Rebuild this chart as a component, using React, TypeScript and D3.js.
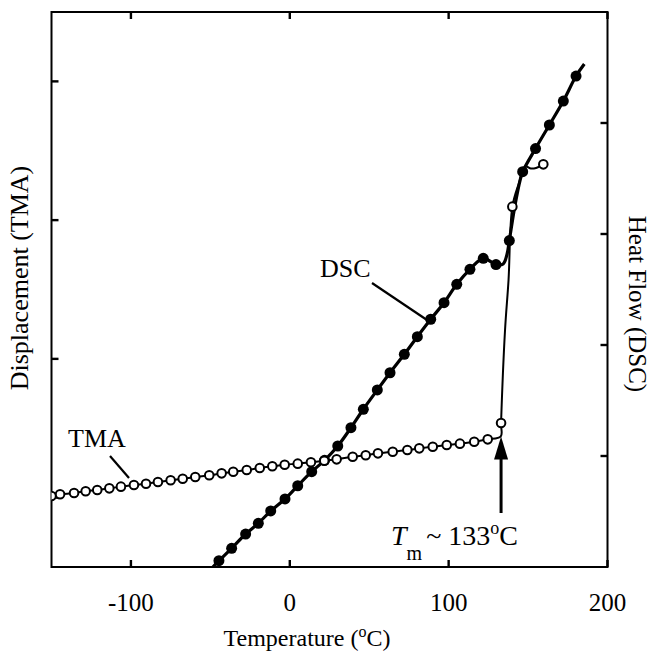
import React from "react";
import * as d3 from "d3";

// ---- data (temperature in °C, arbitrary units on each y axis) ----
// TMA: displacement (left axis), m = 1 where an open-circle marker is drawn
const tmaT = [-150, -144.6, -135.8, -128.5, -121.2, -113.6, -106.3, -98.1, -90.5, -83.0, -75.0, -67.4, -59.5, -50.7, -42.9, -35.6, -27.1, -18.9, -11.0, -3.2, 5.0, 13.3, 21.7, 29.5, 39.6, 47.8, 55.5, 64.8, 74.0, 81.5, 90.0, 98.8, 107.1, 116.1, 124.6, 132.8, 133.0, 135.5, 137.7, 140.1, 144.3, 148.1, 151.8, 155.0, 159.6];
const tmaV = [0.512, 0.524, 0.533, 0.546, 0.555, 0.567, 0.579, 0.591, 0.600, 0.613, 0.625, 0.636, 0.649, 0.661, 0.675, 0.687, 0.699, 0.714, 0.726, 0.737, 0.745, 0.755, 0.766, 0.776, 0.795, 0.805, 0.819, 0.831, 0.843, 0.855, 0.867, 0.879, 0.889, 0.903, 0.920, 0.941, 1.038, 1.708, 2.068, 2.597, 2.768, 2.888, 2.872, 2.876, 2.902];
const tmaM = [1, 1, 1, 1, 1, 1, 1, 1, 1, 1, 1, 1, 1, 1, 1, 1, 1, 1, 1, 1, 1, 1, 1, 1, 1, 1, 1, 1, 1, 1, 1, 1, 1, 1, 1, 0, 1, 0, 0, 1, 0, 0, 0, 0, 1];

// DSC: heat flow (right axis), m = 1 where a filled-circle marker is drawn
const dscT = [-48.4, -44.6, -36.6, -27.8, -19.8, -12.0, -3.0, 5.0, 13.8, 21.9, 30.2, 38.5, 46.3, 55.1, 63.1, 72.1, 80.3, 88.7, 97.1, 105.1, 113.4, 121.8, 129.8, 134.3, 136.8, 138.2, 141.8, 145.0, 146.6, 154.7, 163.4, 172.2, 180.2, 185.4];
const dscV = [0.0, 0.057, 0.168, 0.297, 0.394, 0.505, 0.613, 0.732, 0.859, 0.961, 1.090, 1.255, 1.421, 1.595, 1.750, 1.916, 2.075, 2.232, 2.381, 2.547, 2.682, 2.781, 2.725, 2.730, 2.820, 2.941, 3.261, 3.486, 3.561, 3.770, 3.982, 4.198, 4.423, 4.532];
const dscM = [0, 1, 1, 1, 1, 1, 1, 1, 1, 1, 1, 1, 1, 1, 1, 1, 1, 1, 1, 1, 1, 1, 1, 0, 0, 1, 0, 0, 1, 1, 1, 1, 1, 0];

const xTicks = [-100, 0, 100, 200];
const xTickLabels = ["-100", "0", "100", "200"];
const leftTicks = [0.5, 1.5, 2.5, 3.5];
const rightTicks = [1, 2, 3, 4];
const meltT = 133;

const FONT = "'Liberation Serif', 'Times New Roman', serif";

export default function App() {
  const W = 650, H = 655;
  const L = 51.5, R = 607.5, T = 12, B = 567;
  const x = d3.scaleLinear().domain([-150, 200]).range([L, R]);
  const yL = d3.scaleLinear().domain([0, 4]).range([B, T]);
  const yR = d3.scaleLinear().domain([0, 5]).range([B, T]);

  const tma = tmaT.map((t, i) => ({ t, v: tmaV[i], m: tmaM[i] }));
  const dsc = dscT.map((t, i) => ({ t, v: dscV[i], m: dscM[i] }));

  const tmaLine = d3.line<any>().x(d => x(d.t)).y(d => yL(d.v)).curve(d3.curveCatmullRom.alpha(0.5));
  const dscLine = d3.line<any>().x(d => x(d.t)).y(d => yR(d.v)).curve(d3.curveCatmullRom.alpha(0.5));

  const tk = 7;
  const arrowX = x(meltT);
  const arrowTip = yL(tmaV[35]);

  return (
    <svg width={W} height={H} style={{ position: "absolute", left: 0, top: 0, background: "#fff" }} fontFamily={FONT}>
      <rect x={0} y={0} width={W} height={H} fill="#fff" />
      <defs>
        <clipPath id="plot">
          <rect x={L} y={T} width={R - L} height={B - T} />
        </clipPath>
      </defs>

      {/* ticks */}
      {xTicks.map(v => (
        <g key={"xt" + v}>
          <line x1={x(v)} x2={x(v)} y1={B} y2={B - tk} stroke="#000" strokeWidth={2.4} />
          <line x1={x(v)} x2={x(v)} y1={T} y2={T + tk} stroke="#000" strokeWidth={2.4} />
        </g>
      ))}
      {leftTicks.map(v => (
        <line key={"lt" + v} x1={L} x2={L + tk} y1={yL(v)} y2={yL(v)} stroke="#000" strokeWidth={2.4} />
      ))}
      {rightTicks.map(v => (
        <line key={"rt" + v} x1={R} x2={R - tk} y1={yR(v)} y2={yR(v)} stroke="#000" strokeWidth={2.4} />
      ))}

      {/* frame */}
      <rect x={L} y={T} width={R - L} height={B - T} fill="none" stroke="#000" strokeWidth={2} />

      {/* tick labels */}
      {xTicks.map((v, i) => (
        <text key={"xl" + v} x={x(v)} y={611} fontSize={25} textAnchor="middle">{xTickLabels[i]}</text>
      ))}

      {/* axis titles */}
      <text x={307} y={646} fontSize={24} textAnchor="middle">
        Temperature (<tspan fontSize={16} dy={-9}>o</tspan><tspan dy={9}>C)</tspan>
      </text>
      <text transform={`translate(28,278) rotate(-90)`} fontSize={26} textAnchor="middle">Displacement (TMA)</text>
      <text transform={`translate(629,304) rotate(90)`} fontSize={25} textAnchor="middle">Heat Flow (DSC)</text>

      <g clipPath="url(#plot)">
        <path d={tmaLine(tma) || ""} fill="none" stroke="#000" strokeWidth={2} />
        <path d={dscLine(dsc) || ""} fill="none" stroke="#000" strokeWidth={3.2} />
        {dsc.filter(d => d.m).map((d, i) => (
          <circle key={"dm" + i} cx={x(d.t)} cy={yR(d.v)} r={5.5} fill="#000" />
        ))}
        {tma.filter(d => d.m).map((d, i) => (
          <circle key={"tm" + i} cx={x(d.t)} cy={yL(d.v)} r={4.3} fill="#fff" stroke="#000" strokeWidth={2} />
        ))}
      </g>

      {/* series labels with leaders */}
      <text x={320} y={277} fontSize={26}>DSC</text>
      <line x1={372} y1={283} x2={427} y2={320} stroke="#000" strokeWidth={2.2} />
      <text x={68} y={447} fontSize={26}>TMA</text>
      <line x1={110} y1={456} x2={129} y2={478} stroke="#000" strokeWidth={2.2} />

      {/* melting arrow */}
      <line x1={arrowX} x2={arrowX} y1={513} y2={arrowTip + 20} stroke="#000" strokeWidth={3} />
      <path d={`M${arrowX},${arrowTip} L${arrowX - 7},${arrowTip + 23} L${arrowX + 7},${arrowTip + 23} Z`} fill="#000" />
      <text x={391} y={545} fontSize={28}>
        <tspan fontStyle="italic">T</tspan>
        <tspan fontSize={20} dy={15}>m</tspan>
        <tspan dy={-15} dx={4}>~ 133</tspan>
        <tspan fontSize={18} dy={-11}>o</tspan>
        <tspan dy={11}>C</tspan>
      </text>
    </svg>
  );
}
